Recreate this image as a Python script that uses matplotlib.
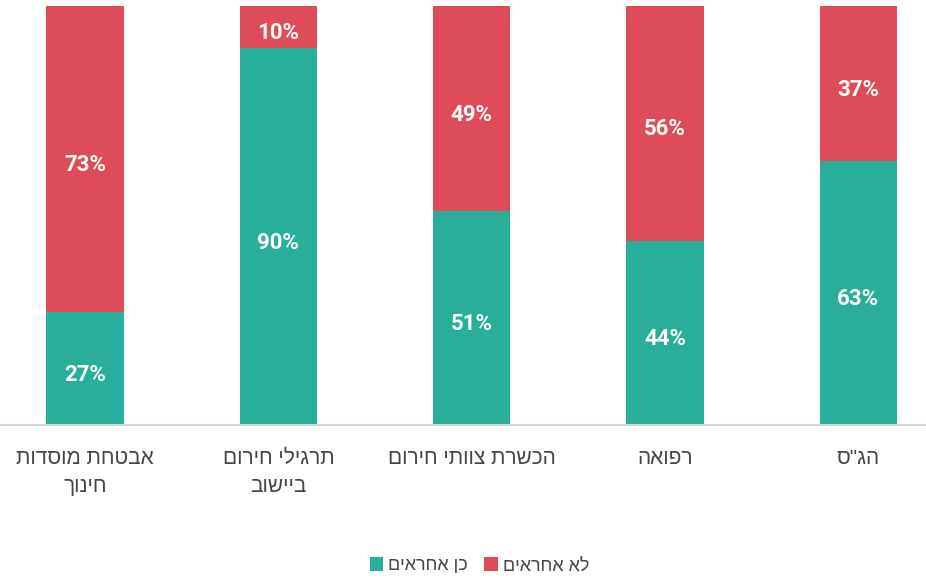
import matplotlib.pyplot as plt
import numpy as np

# categories in original (right-to-left) order
categories = ['הג"ס', 'רפואה', 'הכשרת צוותי חירום', 'תרגילי חירום\nביישוב', 'אבטחת מוסדות\nחינוך']
yes_values = [63, 44, 51, 90, 27]
no_values = [37, 56, 49, 10, 73]
series_names = ['כן אחראים', 'לא אחראים']

TEAL = '#2aae9c'
RED = '#de4c59'
HEB = ['Liberation Sans', 'DejaVu Sans']
NUM = ['Roboto', 'DejaVu Sans']


def rtl(s):
    # matplotlib has no bidi support, flip each line by hand
    return '\n'.join(line[::-1] for line in s.split('\n'))


def main():
    plt.rcParams['font.family'] = ['DejaVu Sans']
    fig = plt.figure(figsize=(9.26, 5.81), dpi=100)
    ax = fig.add_axes([0, 0.2685, 1, 0.7215])

    x = np.arange(len(categories))
    yes = np.array(yes_values)
    no = np.array(no_values)
    b1 = ax.bar(x, yes, width=0.4, color=TEAL, label=rtl(series_names[0]))
    b2 = ax.bar(x, no, width=0.4, bottom=yes, color=RED, label=rtl(series_names[1]))

    for i in range(len(x)):
        ax.annotate(f'{yes[i]}%', (x[i], yes[i] / 2), xytext=(0, -4.5), textcoords='offset points',
                    ha='center', va='center', color='white', fontsize=16,
                    fontweight='bold', family=NUM)
        ax.annotate(f'{no[i]}%', (x[i], yes[i] + no[i] / 2), xytext=(0, -4.5), textcoords='offset points',
                    ha='center', va='center', color='white', fontsize=16,
                    fontweight='bold', family=NUM)

    ax.set_ylim(0, 100)
    ax.set_xlim(4.44, -0.35)
    ax.set_xticks(x)
    ax.set_xticklabels([rtl(c) for c in categories], fontsize=15, color='#454545',
                       family=HEB, linespacing=1.65)
    ax.tick_params(axis='x', length=0, pad=17)
    ax.set_yticks([])
    for side in ['top', 'left', 'right']:
        ax.spines[side].set_visible(False)
    ax.spines['bottom'].set_color('#d4d4d4')
    ax.spines['bottom'].set_linewidth(1.5)

    fig.legend(handles=[b1, b2], loc='center', bbox_to_anchor=(0.518, 0.026), ncol=2,
               frameon=False, prop={'family': HEB, 'size': 13}, handlelength=0.75,
               handleheight=0.75, handletextpad=0.3, columnspacing=0.9, labelcolor='#454545')

    fig.savefig('out.png', dpi=100, facecolor='white')


if __name__ == '__main__':
    main()
